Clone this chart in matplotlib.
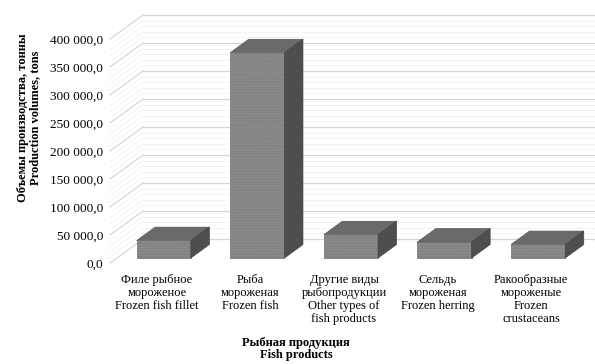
import matplotlib
matplotlib.use("Agg")
import matplotlib.pyplot as plt
from matplotlib.patches import Polygon
import numpy as np

categories = [
    "Филе рыбное\nмороженое\nFrozen fish fillet",
    "Рыба\nмороженая\nFrozen fish",
    "Другие виды\nрыбопродукции\nOther types of\nfish products",
    "Сельдь\nмороженая\nFrozen herring",
    "Ракообразные\nмороженые\nFrozen\ncrustaceans",
]
volumes = [31000, 366500, 41500, 28500, 24000]
major_ticks = np.arange(0, 400001, 50000)
minor_ticks = np.arange(0, 400001, 10000)

plt.rcParams["font.family"] = ["Liberation Serif", "DejaVu Serif"]
plt.rcParams["hatch.linewidth"] = 0.4

W, H = 595, 364
fig = plt.figure(figsize=(W / 100, H / 100), dpi=100)
ax = fig.add_axes([110 / W, 1 - 263 / H, 468 / W, 224 / H])
ax.set_xlim(0, 5)
ax.set_ylim(0, 400000)

# oblique projection of the depth axis, in data units
DX = 33 / 93.6
DY = 24 / 224 * 400000
bar_front = 0.21   # depth of the bar front face (0 = front, 1 = back wall)
bar_depth = 0.56
bar_width = 0.58

# walls: back wall lines and the slanted lines on the left side wall
for y in minor_ticks:
    major = y in major_ticks
    kw = dict(color="#d6d6d6" if major else "#e9e9e9",
              lw=0.9 if major else 0.6,
              ls="-" if major else (0, (1.5, 1)),
              clip_on=False, zorder=1)
    ax.plot([DX, 5 + DX], [y + DY, y + DY], **kw)
    ax.plot([0, DX], [y, y + DY], **kw)

front_c, top_c, side_c = "#838383", "#6a6a6a", "#4e4e4e"
for i, v in enumerate(volumes):
    xl = i + 0.5 - bar_width / 2 + bar_front * DX
    xr = xl + bar_width
    b = bar_front * DY
    ddx, ddy = bar_depth * DX, bar_depth * DY
    ax.bar(xl, v, bar_width, bottom=b, align="edge", color=front_c,
           edgecolor="#6a6a6a", lw=0.5, zorder=3)
    ax.bar(xl, v, bar_width, bottom=b, align="edge", fill=False,
           hatch="......", edgecolor="#999999", lw=0, zorder=3)
    top = [(xl, b + v), (xr, b + v), (xr + ddx, b + v + ddy), (xl + ddx, b + v + ddy)]
    side = [(xr, b), (xr, b + v), (xr + ddx, b + v + ddy), (xr + ddx, b + ddy)]
    ax.add_patch(Polygon(top, closed=True, fc=top_c, ec="#5a5a5a", lw=0.5,
                         zorder=3, clip_on=False))
    ax.add_patch(Polygon(side, closed=True, fc=side_c, ec="#444444", lw=0.5,
                         zorder=3, clip_on=False))


def fmt(v):
    return f"{v:,.1f}".replace(",", " ").replace(".", ",")


ax.set_yticks(major_ticks)
ax.set_yticklabels([fmt(v) for v in major_ticks], fontsize=9.5)
ax.set_xticks(np.arange(len(categories)) + 0.5)
ax.set_xticklabels(categories, fontsize=9, linespacing=1.12)
ax.tick_params(length=0)
ax.tick_params(axis="y", pad=5)
ax.tick_params(axis="x", pad=8)
for s in ax.spines.values():
    s.set_visible(False)

fig.text(296 / W, 1 - 337 / H, "Рыбная продукция\nFish products", ha="center",
         va="top", fontsize=9, fontweight="bold", linespacing=1.05)
fig.text(29 / W, 1 - 118 / H, "Объемы производства, тонны\nProduction volumes, tons",
         ha="center", va="center", rotation=90, fontsize=9, fontweight="bold",
         linespacing=0.95)

fig.savefig("out.png", dpi=100)
